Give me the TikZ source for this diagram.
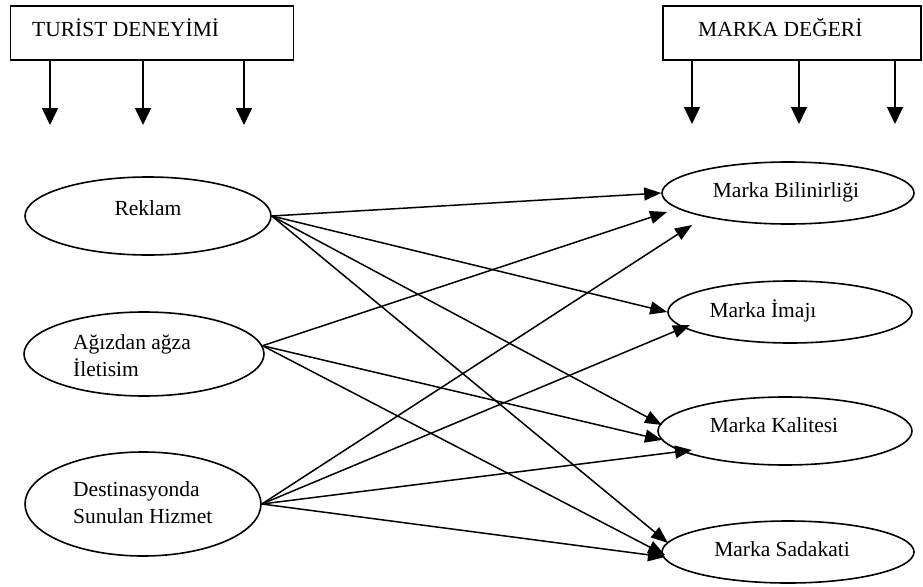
\documentclass[tikz,border=0pt]{standalone}
\usepackage{fontspec}
\setmainfont{Liberation Serif}
\usepackage{tikz}
\usetikzlibrary{shapes.geometric}
\usetikzlibrary{arrows.meta}
\tikzstyle{BoxHead}=[draw,line width=1.6pt,inner sep=0pt]
\tikzstyle{EllNode}=[ellipse,draw,line width=1.6pt,inner sep=0pt]
\tikzstyle{TxtNode}=[font=\fontsize{21.5}{27}\selectfont,inner sep=0pt]
\tikzstyle{EdgeArr}=[line width=1.5pt,-{Triangle[length=17pt,width=13pt]}]
\tikzstyle{DownArr}=[line width=1.6pt,-{Triangle[length=17pt,width=16pt]}]

\begin{document}
\begin{tikzpicture}[x=1pt,y=-1pt]
        \useasboundingbox (0,0) rectangle (923,586);
        % head boxes
        \node[BoxHead,minimum width=283pt,minimum height=54pt](tur)at(152,33){};
        \node[BoxHead,minimum width=258pt,minimum height=54pt](mar)at(792,33){};
        \node[TxtNode,anchor=base west](turT)at(32,37){TURİST DENEYİMİ};
        \node[TxtNode,anchor=base west](marT)at(698,37){MARKA DEĞERİ};
        \coordinate(t1)at(50,125);
        \coordinate(t2)at(143,125);
        \coordinate(t3)at(244,125);
        \coordinate(m1)at(692,124);
        \coordinate(m2)at(799,124);
        \coordinate(m3)at(895,124);
        \foreach \p in {t1,t2,t3}
            \draw[DownArr](tur.south -| \p)--(\p);
        \foreach \p in {m1,m2,m3}
            \draw[DownArr](mar.south -| \p)--(\p);
        % left ellipses
        \node[EllNode,minimum width=246pt,minimum height=78pt](rek)at(148,216){};
        \node[EllNode,minimum width=240pt,minimum height=84pt](agz)at(144,354){};
        \node[EllNode,minimum width=236pt,minimum height=104pt](des)at(143,504){};
        \node[TxtNode,anchor=base](rekT)at(148,215){Reklam};
        \node[TxtNode,anchor=west,align=left](agzT)at(73,356){Ağızdan ağza\\İletisim};
        \node[TxtNode,anchor=west,align=left](desT)at(73,503){Destinasyonda\\Sunulan Hizmet};
        % right ellipses
        \node[EllNode,minimum width=252pt,minimum height=62pt](bil)at(788,193){};
        \node[EllNode,minimum width=244pt,minimum height=62pt](ima)at(790,312){};
        \node[EllNode,minimum width=254pt,minimum height=68pt](kal)at(785,431){};
        \node[EllNode,minimum width=252pt,minimum height=62pt](sad)at(788,552){};
        \node[TxtNode,anchor=base](bilT)at(786,197){Marka Bilinirliği};
        \node[TxtNode,anchor=base](imaT)at(763,317){Marka İmajı};
        \node[TxtNode,anchor=base](kalT)at(774,432){Marka Kalitesi};
        \node[TxtNode,anchor=base](sadT)at(782,556){Marka Sadakati};
        % arrow ends
        \coordinate(bil2)at(667,212);
        \coordinate(bil3)at(692,225);
        \coordinate(ima2)at(690,325);
        \coordinate(kal1)at(662,425);
        \coordinate(kal2)at(662,440);
        \coordinate(kal3)at(692,450);
        \coordinate(sad1)at(668,543);
        \coordinate(sad2)at(665,555);
        \coordinate(sad3)at(665,557);
        \draw[EdgeArr](rek.east)--(bil.west);
        \draw[EdgeArr](rek.east)--(ima.west);
        \draw[EdgeArr](rek.east)--(kal1);
        \draw[EdgeArr](rek.east)--(sad1);
        \draw[EdgeArr](agz.4)--(bil2);
        \draw[EdgeArr](agz.4)--(kal2);
        \draw[EdgeArr](agz.4)--(sad2);
        \draw[EdgeArr](des.east)--(bil3);
        \draw[EdgeArr](des.east)--(ima2);
        \draw[EdgeArr](des.east)--(kal3);
        \draw[EdgeArr](des.east)--(sad3);
    \end{tikzpicture}
\end{document}
